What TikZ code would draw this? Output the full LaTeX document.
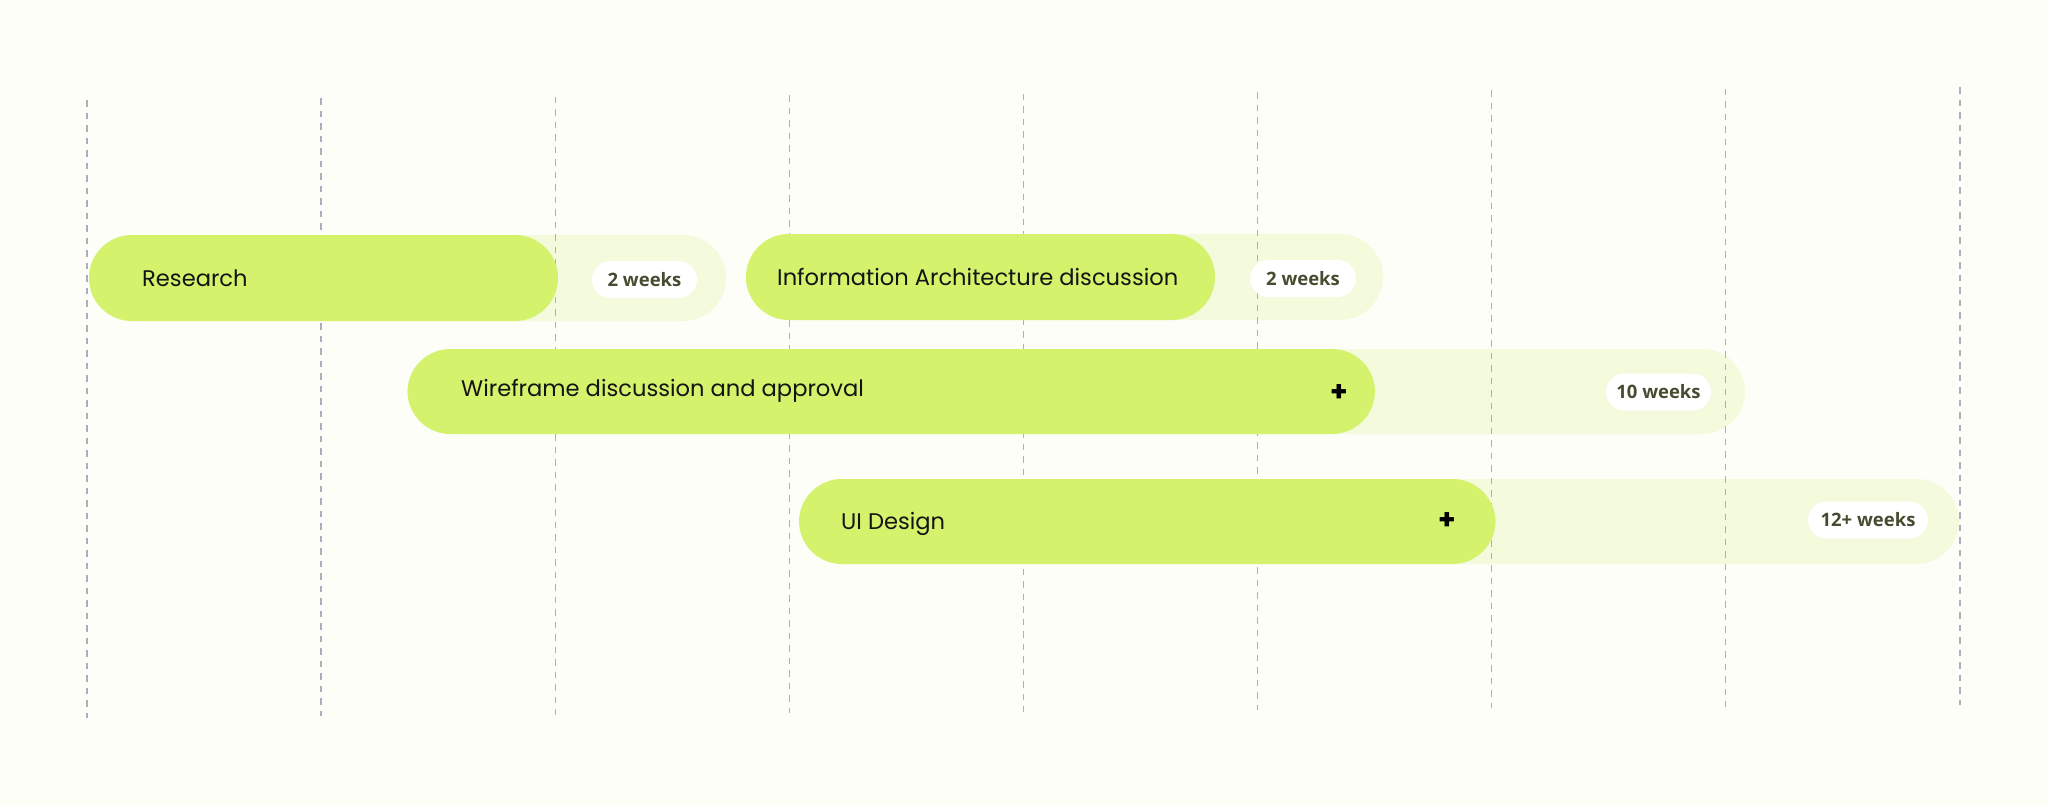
\documentclass[tikz,border=0pt]{standalone}
\usepackage{fontspec}
\setmainfont{Poppins}
\newfontfamily\pillfont{Open Sans}
\definecolor{bgc}{HTML}{FDFEF7}
\definecolor{lime}{HTML}{D5F26C}
\definecolor{limelight}{HTML}{F4FADC}
\definecolor{gridc}{HTML}{ADADC0}
\definecolor{pilltext}{HTML}{454C30}
\tikzset{
  gridline/.style={gridc, line width=1.4pt, dash pattern=on 6.5pt off 6pt},
  barbg/.style={fill=limelight, rounded corners=43pt},
  barfg/.style={fill=lime, rounded corners=43pt},
  bartext/.style={anchor=west, inner sep=0pt, font=\fontsize{22.6}{26}\selectfont, text=black!92},
  plussign/.style={inner sep=0pt, font=\fontsize{28}{30}\selectfont\bfseries, text=black},
  pill/.style={fill=white, rounded corners=18.5pt, minimum width=#1, minimum height=37pt, inner sep=0pt,
    font=\pillfont\fontsize{18.5}{22}\selectfont\bfseries, text=pilltext}
}
\begin{document}
\begin{tikzpicture}[x=1pt,y=-1pt]
\fill[bgc] (0,0) rectangle (2048,806);
\useasboundingbox (0,0) rectangle (2048,806);
% light extensions
\fill[barbg] (89,235) rectangle (726,321);
\fill[barbg] (746,234) rectangle (1383,320);
\fill[barbg] (407.5,349) rectangle (1745,434);
\fill[barbg] (799,479) rectangle (1959,564);
% grid lines
\foreach \i in {0,...,8}{
  \draw[gridline] ({87+\i*234.1},{100-1.6*\i}) -- ({87+\i*234.1},{718-1.6*\i});
}
% lime bars
\fill[barfg] (89,235) rectangle (558,321);
\fill[barfg] (746,234) rectangle (1215,320);
\fill[barfg] (407.5,349) rectangle (1375,434);
\fill[barfg] (799,479) rectangle (1495.5,564);
% bar texts
\node[bartext] (research) at (142,278) {Research};
\node[bartext] (infoarch) at (777,277) {Information Architecture discussion};
\node[bartext] (wireframe) at (461,391) {Wireframe discussion and approval};
\node[bartext] (uidesign) at (841,524) {UI Design};
\node[plussign] (plusw) at (1339,393) {+};
\node[plussign] (plusu) at (1447,521) {+};
% pills
\node[pill=105pt] (p1) at (644.5,279.5) {2 weeks};
\node[pill=106pt] (p2) at (1303,278.5) {2 weeks};
\node[pill=105pt] (p3) at (1658.5,392) {10 weeks};
\node[pill=120pt] (p4) at (1868,520) {12+ weeks};
\end{tikzpicture}
\end{document}
